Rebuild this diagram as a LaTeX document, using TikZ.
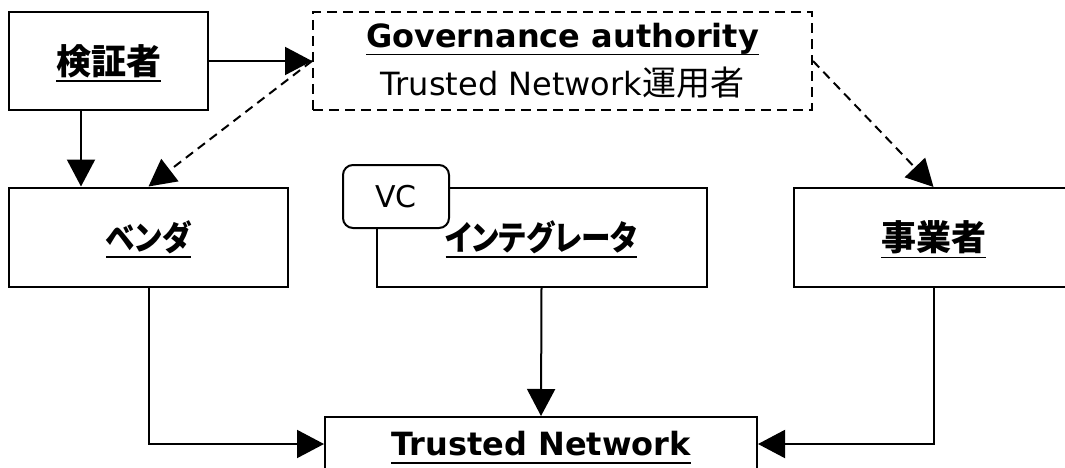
\documentclass[tikz,border=0pt]{standalone}
\usepackage{fontspec}
\setmainfont{DejaVu Sans}
\newfontfamily\jp{Noto Sans CJK JP}[RawFeature={+palt}]
\newfontfamily\jpk{Noto Sans CJK JP}[RawFeature={+palt},FakeStretch=0.87]
\usetikzlibrary{arrows.meta}
\newcommand\myul[1]{\setbox0=\hbox{#1}\leavevmode\rlap{\smash{\vrule width\wd0 height -6pt depth 7.6pt}}\box0}
\begin{document}
\begin{tikzpicture}[x=1pt,y=-1pt,
  box/.style={draw,line width=2pt,rectangle,inner sep=0pt},
  jpbold/.style={font=\jp\bfseries\fontsize{35}{40}\selectfont},
  kanabold/.style={font=\jpk\bfseries\fontsize{34}{40}\selectfont},
  arr/.style={line width=2pt,-{Triangle[length=27pt,width=28pt]}},
  darr/.style={arr,dash pattern=on 9pt off 6pt}]
\useasboundingbox (0,0) rectangle (1065,468);
\clip (0,0) rectangle (1065,468);
\node[box,jpbold,minimum width=199pt,minimum height=98pt] (v) at (108.5,61) {\myul{検証者}};
\node[box,dash pattern=on 10pt off 6pt,minimum width=499pt,minimum height=98pt,align=center,
  font=\fontsize{32}{48}\selectfont] (g) at (562.5,61)
  {{\bfseries\myul{Governance authority}}\\Trusted Network{\jp\fontsize{34}{48}\selectfont 運用者}};
\node[box,kanabold,minimum width=279pt,minimum height=99pt] (b) at (148.5,237) {\myul{ベンダ}};
\node[box,kanabold,minimum width=330pt,minimum height=99pt] (i) at (541.5,237) {\myul{インテグレータ}};
\node[box,line width=2pt,rounded corners=10pt,fill=white,minimum width=106pt,minimum height=63pt,
  font=\fontsize{30}{36}\selectfont] (vc) at (396,196.5) {VC};
\node[box,jpbold,minimum width=279pt,minimum height=99pt] (j) at (933.5,237.5) {\myul{事業者}};
\node[box,font=\bfseries\fontsize{32}{40}\selectfont,minimum width=432pt,minimum height=54pt] (t) at (541,444) {\myul{Trusted Network}};
\draw[arr] (v.east) -- (g.west);
\draw[arr] ([xshift=73pt]v.south west) -- ([xshift=73pt]v.south west |- b.north);
\draw[darr] (g.west) -- (b.north);
\draw[darr] (g.east) -- (j.north);
\draw[arr] (b.south) |- (t.west);
\draw[arr] (i.south) -- (t.north);
\draw[arr] (j.south) |- (t.east);
\end{tikzpicture}
\end{document}
